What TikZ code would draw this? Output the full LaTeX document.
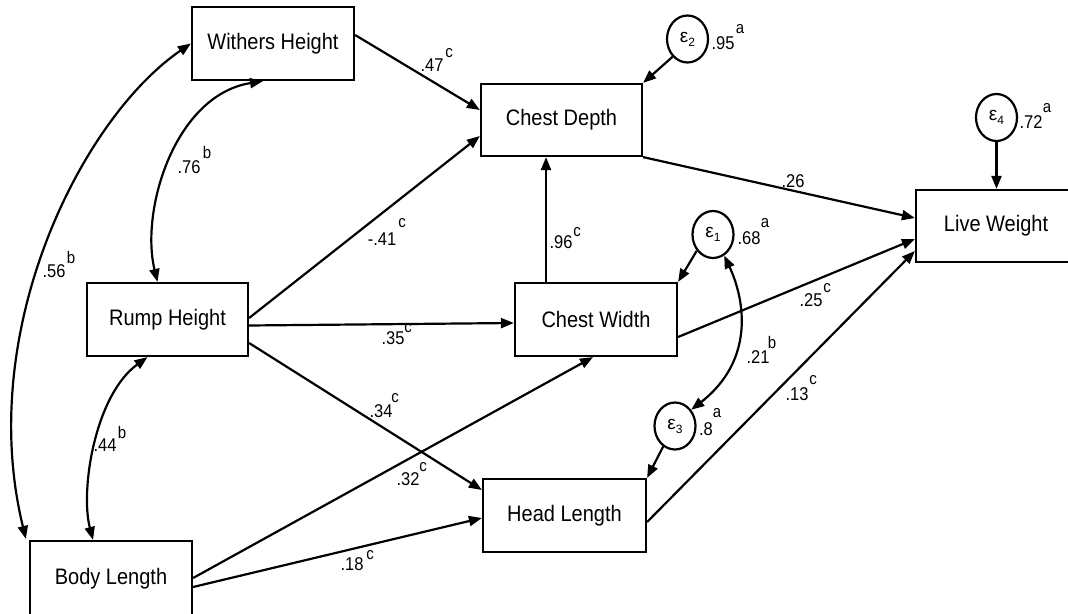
\documentclass[tikz,border=0pt]{standalone}
\usepackage{fontspec}
\setmainfont{Liberation Sans}
\usetikzlibrary{arrows.meta,calc,shapes.geometric}
\newcommand\tallt[1]{\scalebox{1}[1.12]{#1}}
\newcommand\pcoef[6]{%
  \node[lab] (#1) at (#2) {\tallt{#3}};
  \ifx\relax#5\relax\else\node[suplab] (#1s) at (#4) {\tallt{#5}};\fi}
\begin{document}
\begin{tikzpicture}[x=1pt,y=-1pt,
  box/.style={draw,line width=2.2pt,inner sep=0pt,font=\fontsize{20}{24}\selectfont},
  eps/.style={draw,ellipse,line width=2.2pt,inner sep=0pt,minimum width=41pt,minimum height=47pt},
  lab/.style={inner sep=0pt,font=\fontsize{16.5}{18}\selectfont},
  suplab/.style={inner sep=0pt,font=\fontsize{15}{16}\selectfont},
  arr/.style={line width=2.2pt,-{Triangle[length=13pt,width=10pt]}},
  dbl/.style={line width=2.2pt,{Triangle[length=13pt,width=10pt]}-{Triangle[length=13pt,width=10pt]}}]
\useasboundingbox (0,0) rectangle (1068,613);
% boxes
\node[box,minimum width=162pt,minimum height=73pt] (WH) at (273,43.5) {\tallt{Withers Height}};
\node[box,minimum width=161pt,minimum height=73pt] (RH) at (167.5,319.5) {\tallt{Rump Height}};
\node[box,minimum width=162pt,minimum height=75pt] (BL) at (111,578.5) {\tallt{Body Length}};
\node[box,minimum width=161pt,minimum height=72pt] (CD) at (561.5,120) {\tallt{Chest Depth}};
\node[box,minimum width=162pt,minimum height=73pt] (CW) at (596,319.5) {\tallt{Chest Width}};
\node[box,minimum width=163pt,minimum height=73pt] (HL) at (564.5,515.5) {\tallt{Head Length}};
\node[box,minimum width=154pt,minimum height=72pt] (LW) at (993,226) {\hspace*{6pt}\tallt{Live Weight}};
% error terms
\newcommand\epsl[1]{{\fontsize{19}{20}\selectfont ε\raisebox{-4pt}{\fontsize{12}{12}\selectfont #1}}}
\node[eps] (e2) at (687.5,39) {\epsl{2}};
\node[eps] (e4) at (996.5,117.5) {\epsl{4}};
\node[eps] (e1) at (713,234.5) {\epsl{1}};
\node[eps] (e3) at (675,426) {\epsl{3}};
% helper coordinates
\coordinate (cwtop) at ($(CW.north)+(-50,0)$);
% straight paths
\draw[arr] ($(WH.east)+(0,-8.5)$) -- ($(CD.west)+(0,-10)$);
\draw[arr] ($(RH.east)+(0,-1.5)$) -- ($(CD.west)+(0,16)$);
\draw[arr] ($(RH.east)+(0,6)$) -- ($(CW.west)+(0,3.5)$);
\draw[arr] ($(RH.east)+(0,23.5)$) -- ($(HL.west)+(0,-25.5)$);
\draw[arr] ($(BL.east)+(0,-0.5)$) -- ($(CW.south)+(-3,0)$);
\draw[arr] ($(BL.east)+(0,8.5)$) -- ($(HL.west)+(0,2.5)$);
\draw[arr] (cwtop) -- (cwtop |- CD.south);
\draw[arr] (CD.south east) -- ($(LW.west)+(0,-8)$);
\draw[arr] ($(CW.east)+(0,17.5)$) -- ($(LW.west)+(0,13)$);
\draw[arr] ($(HL.east)+(0,6.5)$) -- ($(LW.west)+(0,25)$);
\draw[arr] (e2.230) -- (CD.north east);
\draw[arr] (e4.south) -- (e4.south |- LW.north);
\draw[arr] (e1.225) -- (CW.north east);
\draw[arr] (e3.240) -- (HL.north east);
% correlations
\draw[dbl] ($(BL.north west)+(-3,-1)$) .. controls (-25,330) and (82,118) .. (WH.west);
\draw[dbl] ($(WH.south)+(-10,0)$) .. controls (175,95) and (140,210) .. ($(RH.north)+(-10,0)$);
\draw[dbl] ($(RH.south)+(-20,0)$) .. controls (95,395) and (80,490) .. ($(BL.north)+(-18,0)$);
\draw[dbl] (e1.-62) .. controls (745,300) and (755,360) .. (e3.45);
% coefficients
\pcoef{c47}{432,65}{.47}{449,53}{c}{}
\pcoef{c95}{723,43}{.95}{740,29}{a}{}
\pcoef{c72}{1031,122}{.72}{1047,108}{a}{}
\pcoef{c68}{749,238}{.68}{765,223}{a}{}
\pcoef{c8}{706,429}{.8}{717,413}{a}{}
\pcoef{c41}{382,239}{-.41}{402,223}{c}{}
\pcoef{c96}{561,242}{.96}{577,232}{c}{}
\pcoef{c26}{793,181}{.26}{0,0}{}{}
\pcoef{c35}{393,338}{.35}{408,328}{c}{}
\pcoef{c25}{811,300}{.25}{827,288}{c}{}
\pcoef{c21}{758,357}{.21}{772,342}{b}{}
\pcoef{c34}{381,411}{.34}{395,398}{c}{}
\pcoef{c13}{797,394}{.13}{813,380}{c}{}
\pcoef{c32}{408,479}{.32}{423,467}{c}{}
\pcoef{c18}{352,564}{.18}{370,555}{c}{}
\pcoef{c76}{189,167}{.76}{207,152}{b}{}
\pcoef{c56}{54,271}{.56}{71,257}{b}{}
\pcoef{c44}{105,445}{.44}{122,432}{b}{}
\end{tikzpicture}
\end{document}
